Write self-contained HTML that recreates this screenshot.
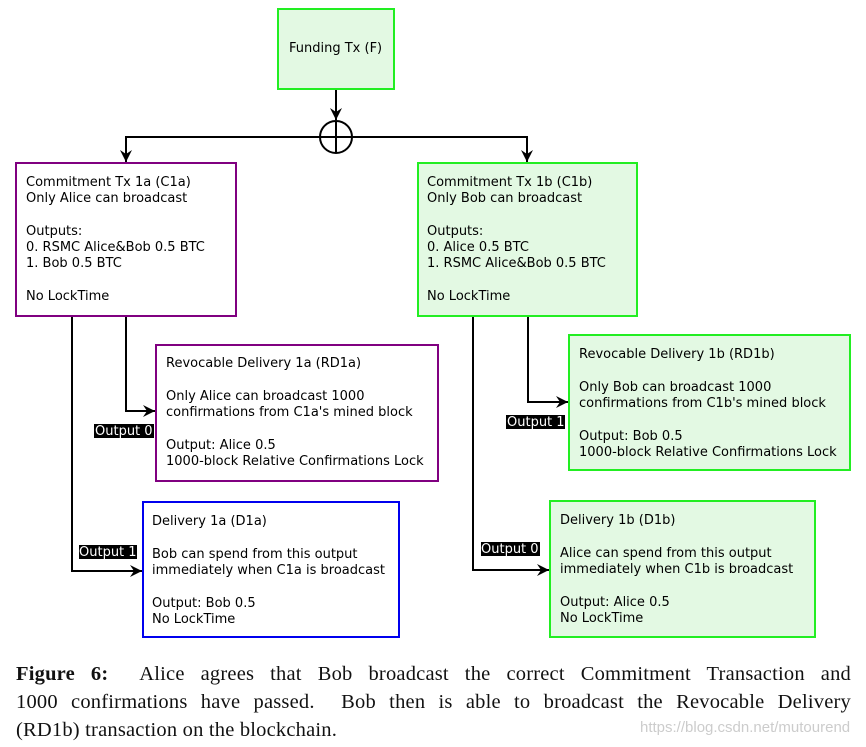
<!DOCTYPE html>
<html><head><meta charset="utf-8"><style>
body{margin:0;background:#fff;width:866px;height:747px;overflow:hidden;position:relative}
svg{position:absolute;left:0;top:0}
svg text{font-family:"DejaVu Sans","Liberation Sans",sans-serif;font-size:13px;fill:#000}
.cap{position:absolute;left:16px;width:835px;font-family:"Liberation Serif",serif;font-size:20.5px;color:#111;white-space:nowrap;letter-spacing:0.2px}
.j{text-align:justify;text-align-last:justify}
.wm{position:absolute;left:640px;top:719px;font-family:"Liberation Sans",sans-serif;font-size:15px;color:#ccc}
</style></head><body>
<svg width="866" height="747" viewBox="0 0 866 747">
<defs>
<marker id="a" viewBox="0 0 12 12" refX="12" refY="6" markerWidth="12" markerHeight="12" markerUnits="userSpaceOnUse" orient="auto">
<path d="M0,0 L12,6 L0,12 L4,6 Z" fill="#000"/></marker>
</defs>
<g fill="none" stroke="#000" stroke-width="2">
<path d="M336,89 V120" marker-end="url(#a)"/>
<circle cx="336" cy="137" r="16"/>
<path d="M336,121 V153"/>
<path d="M126,137 H527"/>
<path d="M126,136 V162" marker-end="url(#a)"/>
<path d="M527,136 V162" marker-end="url(#a)"/>
<path d="M126,316 V411 H155" marker-end="url(#a)"/>
<path d="M72,316 V571 H142" marker-end="url(#a)"/>
<path d="M528,316 V402 H568" marker-end="url(#a)"/>
<path d="M473,316 V570 H549" marker-end="url(#a)"/>
</g>
<rect x="278" y="9" width="116" height="80" fill="#e3f9e3" stroke="#22ee22" stroke-width="2"/>
<rect x="16" y="163" width="220" height="153" fill="#fff" stroke="#800080" stroke-width="2"/>
<rect x="418" y="163" width="219" height="153" fill="#e3f9e3" stroke="#22ee22" stroke-width="2"/>
<rect x="156" y="345" width="282" height="136" fill="#fff" stroke="#800080" stroke-width="2"/>
<rect x="569" y="335" width="281" height="135" fill="#e3f9e3" stroke="#22ee22" stroke-width="2"/>
<rect x="143" y="502" width="256" height="135" fill="#fff" stroke="#0000ee" stroke-width="2"/>
<rect x="550" y="501" width="265" height="136" fill="#e3f9e3" stroke="#22ee22" stroke-width="2"/>
<text x="289" y="52">Funding Tx (F)</text>
<text x="26" y="186">Commitment Tx 1a (C1a)</text>
<text x="26" y="202">Only Alice can broadcast</text>
<text x="26" y="235">Outputs:</text>
<text x="26" y="251">0. RSMC Alice&amp;Bob 0.5 BTC</text>
<text x="26" y="267">1. Bob 0.5 BTC</text>
<text x="26" y="300">No LockTime</text>
<text x="427" y="186">Commitment Tx 1b (C1b)</text>
<text x="427" y="202">Only Bob can broadcast</text>
<text x="427" y="235">Outputs:</text>
<text x="427" y="251">0. Alice 0.5 BTC</text>
<text x="427" y="267">1. RSMC Alice&amp;Bob 0.5 BTC</text>
<text x="427" y="300">No LockTime</text>
<text x="166" y="367">Revocable Delivery 1a (RD1a)</text>
<text x="166" y="400">Only Alice can broadcast 1000</text>
<text x="166" y="416">confirmations from C1a's mined block</text>
<text x="166" y="449">Output: Alice 0.5</text>
<text x="166" y="465">1000-block Relative Confirmations Lock</text>
<text x="579" y="358">Revocable Delivery 1b (RD1b)</text>
<text x="579" y="391">Only Bob can broadcast 1000</text>
<text x="579" y="407">confirmations from C1b's mined block</text>
<text x="579" y="440">Output: Bob 0.5</text>
<text x="579" y="456">1000-block Relative Confirmations Lock</text>
<text x="152" y="525">Delivery 1a (D1a)</text>
<text x="152" y="558">Bob can spend from this output</text>
<text x="152" y="574">immediately when C1a is broadcast</text>
<text x="152" y="607">Output: Bob 0.5</text>
<text x="152" y="623">No LockTime</text>
<text x="560" y="524">Delivery 1b (D1b)</text>
<text x="560" y="557">Alice can spend from this output</text>
<text x="560" y="573">immediately when C1b is broadcast</text>
<text x="560" y="606">Output: Alice 0.5</text>
<text x="560" y="622">No LockTime</text>
<rect x="94" y="424" width="60" height="14" fill="#000"/>
<text x="95" y="435" style="fill:#fff">Output 0</text>
<rect x="79" y="545" width="58" height="14" fill="#000"/>
<text x="79" y="556" style="fill:#fff">Output 1</text>
<rect x="506" y="415" width="59" height="14" fill="#000"/>
<text x="507" y="426" style="fill:#fff">Output 1</text>
<rect x="481" y="542" width="59" height="14" fill="#000"/>
<text x="481" y="553" style="fill:#fff">Output 0</text>
</svg>
<div class="cap j" style="top:663px"><b>Figure 6:</b>&nbsp; Alice agrees that Bob broadcast the correct Commitment Transaction and</div>
<div class="cap j" style="top:691px">1000 confirmations have passed. &nbsp;Bob then is able to broadcast the Revocable Delivery</div>
<div class="cap" style="top:719px">(RD1b) transaction on the blockchain.</div>
<div class="wm">https://blog.csdn.net/mutourend</div>
</body></html>
